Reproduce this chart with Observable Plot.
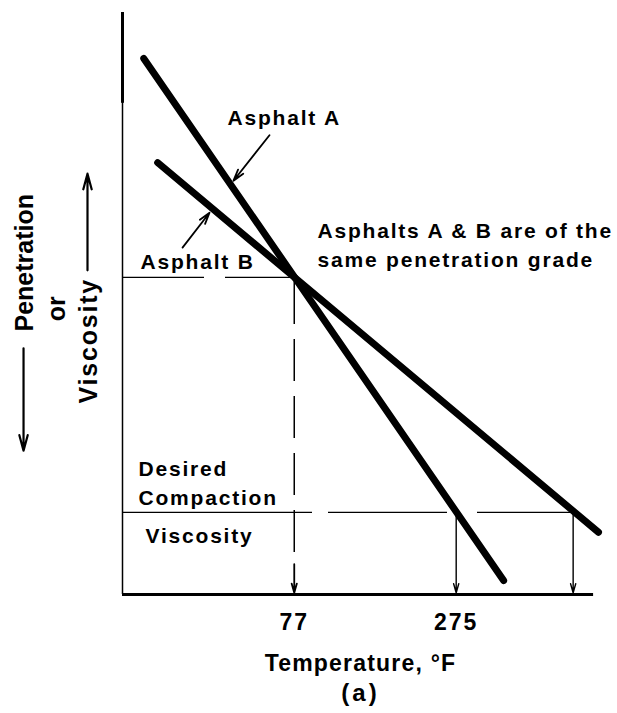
<!DOCTYPE html>
<html><head><meta charset="utf-8">
<script src="https://cdn.jsdelivr.net/npm/d3@7"></script>
<script src="https://cdn.jsdelivr.net/npm/@observablehq/plot@0.6"></script>
<style>body{margin:0;background:#fff}</style>
</head><body><div id="chart"></div>
<script>
// ---- data (schematic: temperature in °F, penetration/viscosity on a relative 0–100 scale) ----
const tempDomain = [-133, 449];
const viscDomain = [0, 100];
const axisEndTemp = 443;

const tickTemps = [77, 275];
const tickLabels = ["77", "275"];

const asphaltATemp = [-107, 333];
const asphaltAVisc = [92.1, 2.4];
const asphaltBTemp = [-90, 449];
const asphaltBVisc = [74.2, 10.7];

const gradeTemp = 77;          // temperature where both have same penetration
const gradeLevel = 54.5;       // penetration grade level
const compactionLevel = 14.1;  // desired compaction viscosity
const compactionTemps = [275, 418]; // A, B compaction temperatures

// annotation labels
const noteText = ["Asphalt A", "Asphalt B", "Asphalts A & B are of the", "same penetration grade", "Desired", "Compaction", "Viscosity"];
const noteTemp = [-4.6, -111, 105.4, 105.4, -113.4, -113.4, -104.9];
const noteVisc = [80.6, 56.0, 61.2, 56.2, 20.4, 15.3, 8.9];

// leader arrows [fromTemp, fromVisc, toTemp, toVisc]
const leaderFromTemp = [46.7, -59.6];
const leaderFromVisc = [78.9, 59.6];
const leaderToTemp = [2.7, -26.6];
const leaderToVisc = [71.1, 65.6];

// y-axis title (rotated)
const yTitleText = ["Penetration", "or", "Viscosity"];
const yTitleTemp = [-243, -202.7, -163.6];
const yTitleVisc = [57.0, 49.1, 43.6];
// direction arrows beside the y title
const dirTemp = [-254, -175.8];
const dirFromVisc = [42.3, 55.7];
const dirToVisc = [24.7, 72.3];

// ---- build tables ----
const lineA = asphaltATemp.map((t, i) => ({t, v: asphaltAVisc[i], s: "A"}));
const lineB = asphaltBTemp.map((t, i) => ({t, v: asphaltBVisc[i], s: "B"}));
const notes = noteText.map((text, i) => ({text, t: noteTemp[i], v: noteVisc[i]}));
const leaders = leaderFromTemp.map((t, i) => ({t1: t, v1: leaderFromVisc[i], t2: leaderToTemp[i], v2: leaderToVisc[i]}));
const yTitles = yTitleText.map((text, i) => ({text, t: yTitleTemp[i], v: yTitleVisc[i]}));
const dirs = dirTemp.map((t, i) => ({t, v1: dirFromVisc[i], v2: dirToVisc[i]}));
const ticks = tickTemps.map((t, i) => ({t, text: tickLabels[i]}));

const FONT = "Liberation Sans, Arial, sans-serif";

const chart = Plot.plot({
  width: 617, height: 713,
  marginLeft: 122, marginRight: 19, marginTop: 12, marginBottom: 119,
  x: {domain: tempDomain, axis: null},
  y: {domain: viscDomain, axis: null},
  style: {background: "white", fontFamily: FONT, color: "black"},
  marks: [
    // axes
    Plot.ruleX([tempDomain[0]], {y1: 0, y2: 100, stroke: "black", strokeWidth: 1.5}),
    Plot.ruleX([tempDomain[0]], {y1: 84.4, y2: 100, stroke: "black", strokeWidth: 3}),
    Plot.ruleY([0], {x1: tempDomain[0], x2: axisEndTemp, stroke: "black", strokeWidth: 3}),
    // penetration grade line
    Plot.ruleY([gradeLevel], {x1: tempDomain[0], x2: gradeTemp, stroke: "black", strokeWidth: 1.3, strokeDasharray: "82,21,300"}),
    // desired compaction viscosity line
    Plot.ruleY([compactionLevel], {x1: tempDomain[0], x2: compactionTemps[1], stroke: "black", strokeWidth: 1.3, strokeDasharray: "190,16,119,30,300"}),
    // dashed drop at 77
    Plot.ruleX([gradeTemp], {y1: gradeLevel - 0.9, y2: 5.2, stroke: "black", strokeWidth: 1.5, strokeDasharray: "42,15"}),
    Plot.arrow([gradeTemp], {x: d => d, y1: 5.2, y2: 0.3, stroke: "black", strokeWidth: 1.8, headLength: 10, headAngle: 32}),
    // drops at compaction temperatures
    Plot.arrow(compactionTemps, {x: d => d, y1: compactionLevel, y2: 0.3, stroke: "black", strokeWidth: 1.4, headLength: 10, headAngle: 32}),
    // asphalt lines
    Plot.line(lineA, {x: "t", y: "v", stroke: "black", strokeWidth: 7, strokeLinecap: "round"}),
    Plot.line(lineB, {x: "t", y: "v", stroke: "black", strokeWidth: 7, strokeLinecap: "round"}),
    // leader arrows
    Plot.arrow(leaders, {x1: "t1", y1: "v1", x2: "t2", y2: "v2", stroke: "black", strokeWidth: 1.8, headLength: 10, headAngle: 32}),
    // direction arrows by y title
    Plot.arrow(dirs, {x: "t", y1: "v1", y2: "v2", stroke: "black", strokeWidth: 2.2, headLength: 11, headAngle: 30}),
    // annotations
    Plot.text(notes, {x: "t", y: "v", text: "text", textAnchor: "start", lineAnchor: "bottom", fontSize: 21, fontWeight: "bold", fill: "black"}),
    Plot.text(yTitles, {x: "t", y: "v", text: "text", rotate: -90, textAnchor: "middle", lineAnchor: "bottom", fontSize: 25, fontWeight: "bold", fill: "black"}),
    // x tick labels
    Plot.text(ticks, {x: "t", y: 0, text: "text", dy: 35, lineAnchor: "bottom", fontSize: 23, fontWeight: "bold", fill: "black"}),
    // x title and caption
    Plot.text(["Temperature, °F"], {frameAnchor: "bottom", dy: 76, lineAnchor: "bottom", fontSize: 23, fontWeight: "bold", fill: "black"}),
    Plot.text(["(a)"], {frameAnchor: "bottom", dy: 106, lineAnchor: "bottom", fontSize: 24, fontWeight: "bold", fill: "black"})
  ]
});

// letter spacing of the hand lettering, per label group
const noteSet = new Set(noteText), tickSet = new Set(tickLabels);
chart.querySelectorAll("text").forEach(t => {
  const s = t.textContent;
  let ls = null;
  if (noteSet.has(s)) ls = "1.8px";
  else if (tickSet.has(s)) ls = "2px";
  else if (s === "Temperature, °F") ls = "1.2px";
  else if (s === "(a)") ls = "3px";
  if (ls) t.style.letterSpacing = ls;
});
document.getElementById("chart").appendChild(chart);
</script>
</body></html>
